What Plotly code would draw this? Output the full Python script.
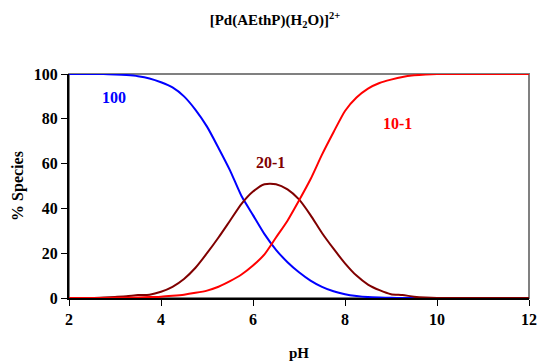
import plotly.graph_objects as go

ph = [2.0, 2.25, 2.5, 2.75, 3.0, 3.25, 3.5, 3.75, 4.0, 4.25, 4.5, 4.75, 5.0, 5.25, 5.5, 5.75,
      6.0, 6.25, 6.5, 6.75, 7.0, 7.25, 7.5, 7.75, 8.0, 8.25, 8.5, 8.75, 9.0, 9.25, 9.5, 9.75,
      10.0, 10.5, 11.0, 11.5, 12.0]

species_100 = [100, 100, 100, 100, 99.8, 99.5, 99, 98, 96.3, 94, 90, 84, 76.5, 67, 57, 45.5,
               37, 28.5, 21.5, 16, 11.5, 7.8, 5, 3, 1.7, 0.9, 0.4, 0.2, 0.1, 0, 0, 0,
               0, 0, 0, 0, 0]

species_20_1 = [0, 0, 0, 0.2, 0.5, 0.8, 1.3, 1.5, 2.8, 5, 8.5, 13.5, 20, 27, 34.5, 42,
                47.5, 50.8, 50.8, 48.5, 44, 37, 29, 22, 15.5, 10, 6, 3.5, 1.7, 1.3, 0.6, 0.2,
                0, 0, 0, 0, 0]

species_10_1 = [0, 0, 0, 0, 0.1, 0.15, 0.2, 0.4, 0.6, 1, 1.5, 2.3, 3.3, 5, 7.5, 10.5,
                14.5, 19.5, 27, 34.5, 43.5, 53, 64, 74, 83.5, 89.5, 93.5, 96, 97.5, 98.7, 99.4, 99.8,
                100, 100, 100, 100, 100]

x_ticks = [2, 4, 6, 8, 10, 12]
y_ticks = [0, 20, 40, 60, 80, 100]

series = [
    ("100", species_100, "#0000FF", 2.98, 89.7),
    ("20-1", species_20_1, "#800000", 6.38, 60.3),
    ("10-1", species_10_1, "#FF0000", 9.15, 78.1),
]

FONT = "Liberation Serif"
W, H = 537, 353  # page body has an 8px margin

fig = go.Figure()
for name, vals, color, lx, ly in series:
    fig.add_trace(go.Scatter(x=ph, y=vals, mode="lines", name=name,
                             line=dict(color=color, width=2, shape="spline", smoothing=0.6),
                             showlegend=False, hoverinfo="skip"))
    fig.add_annotation(x=lx, y=ly, text="<b>%s</b>" % name, showarrow=False,
                       font=dict(family=FONT, size=16, color=color))

fig.update_layout(
    width=W, height=H,
    margin=dict(l=61, r=16, t=66, b=63, autoexpand=False),
    paper_bgcolor="white", plot_bgcolor="white",
    font=dict(family=FONT, size=16, color="black"),
    title=dict(text="<b>[Pd(AEthP)(H<sub>2</sub>O)]<sup>2+</sup></b>",
               x=267 / W, xanchor="center", xref="container",
               y=1 - 12 / H, yref="container", yanchor="middle", automargin=False,
               font=dict(family=FONT, size=15, color="black")),
    shapes=[dict(type="rect", xref="paper", yref="paper", x0=0, y0=0, x1=1, y1=1,
                 line=dict(color="#808080", width=2), layer="below")],
)
fig.update_xaxes(range=[2, 12], tickvals=x_ticks, ticktext=["<b>%d</b>" % v for v in x_ticks],
                 showgrid=False, zeroline=False, showline=True, linecolor="black", linewidth=2,
                 ticks="outside", ticklen=6, tickwidth=1, tickcolor="black", automargin=False,
                 ticklabeloverflow="allow",
                 title=dict(text="<b>pH</b>", font=dict(family=FONT, size=15), standoff=20))
fig.update_yaxes(range=[0, 100], tickvals=y_ticks, ticktext=["<b>%d</b>" % v for v in y_ticks],
                 showgrid=False, zeroline=False, showline=True, linecolor="black", linewidth=2,
                 ticks="outside", ticklen=6, tickwidth=1, tickcolor="black", automargin=False,
                 title=dict(text="<b>% Species</b>", font=dict(family=FONT, size=16), standoff=6))

fig.write_html("out.html")
